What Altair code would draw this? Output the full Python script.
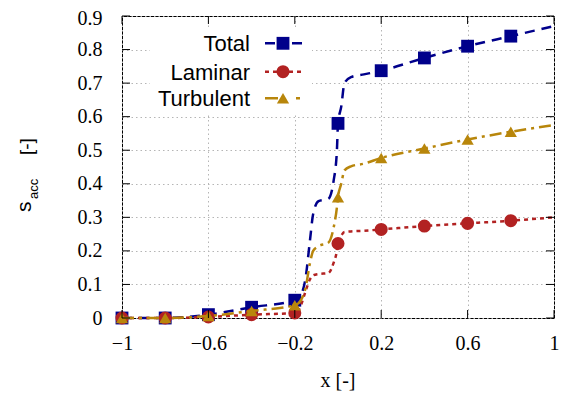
import altair as alt
import pandas as pd

# ---- data ----
x_grid = [-1.0, -0.8, -0.6, -0.4, -0.2, -0.175, -0.15, -0.13, -0.115, -0.09, -0.045,
          -0.02, -0.005, 0.0, 0.015, 0.03, 0.06, 0.12, 0.2, 0.4, 0.6, 0.8, 1.0]
total = [0.0, 0.0, 0.01, 0.032, 0.053, 0.065, 0.12, 0.23, 0.31, 0.348, 0.355,
         0.41, 0.50, 0.58, 0.63, 0.70, 0.718, 0.726, 0.737, 0.775, 0.81, 0.84, 0.87]
laminar = [0.0, 0.0, 0.003, 0.01, 0.015, 0.033, 0.08, 0.115, 0.127, 0.131, 0.134,
           0.165, 0.20, 0.222, 0.245, 0.256, 0.258, 0.26, 0.264, 0.274, 0.282, 0.29, 0.30]
turbulent = [0.0, 0.0, 0.006, 0.021, 0.038, 0.05, 0.09, 0.163, 0.20, 0.214, 0.224,
             0.27, 0.33, 0.36, 0.40, 0.44, 0.452, 0.46, 0.477, 0.505, 0.532, 0.555, 0.575]
marker_x = [-1.0, -0.8, -0.6, -0.4, -0.2, 0.0, 0.2, 0.4, 0.6, 0.8]

series_names = ["Total", "Laminar", "Turbulent"]
series_values = [total, laminar, turbulent]
colors = ["#00008B", "#B22222", "#B8860B"]
shapes = ["square", "circle", "triangle-up"]
sizes = [165, 170, 150]
dashes = [[10, 7], [4, 4], [12, 5, 3, 5]]
legend_dashes = [[10, 17], [4, 4], [13, 18, 4, 5]]

x_ticks = [-1, -0.6, -0.2, 0.2, 0.6, 1]
y_ticks = [0, 0.1, 0.2, 0.3, 0.4, 0.5, 0.6, 0.7, 0.8, 0.9]

W, H = 432, 302
TOP = 8

xs = alt.Scale(domain=[-1, 1], nice=False, zero=False)
ys = alt.Scale(domain=[0, 0.9], nice=False, zero=False)
x_axis = alt.Axis(values=x_ticks, title=None, format="~g", grid=True, ticks=False,
                  domain=False, labelPadding=15, labelFlush=False)
y_axis = alt.Axis(values=y_ticks, title=None, format="~g", grid=True, ticks=False,
                  domain=False, labelPadding=20, labelFlush=False,
                  labelOffset={"condition": {"test": "datum.value >= 0.89", "value": 2}, "value": 0})

layers = []

# white box under legend (hides grid)
layers.append(
    alt.Chart(pd.DataFrame({"a": [0]})).mark_rect(color="white").encode(
        x=alt.value(28), x2=alt.value(190), y=alt.value(12), y2=alt.value(97)
    )
)

for name, vals, col, shp, sz, dsh in zip(series_names, series_values, colors, shapes, sizes, dashes):
    df = pd.DataFrame({"x": x_grid, "y": vals})
    mdf = df[df["x"].round(3).isin(marker_x)]
    line = alt.Chart(df).mark_line(
        color=col, strokeWidth=2.5, strokeDash=dsh, interpolate="monotone"
    ).encode(
        x=alt.X("x:Q", scale=xs, axis=x_axis),
        y=alt.Y("y:Q", scale=ys, axis=y_axis),
    )
    pts = alt.Chart(mdf).mark_point(
        shape=shp, size=sz, filled=True, color=col, opacity=1
    ).encode(
        x=alt.X("x:Q", scale=xs, axis=x_axis),
        y=alt.Y("y:Q", scale=ys, axis=y_axis),
    )
    layers += [line, pts]

# inward ticks on all four sides
ydf = pd.DataFrame({"v": y_ticks})
xdf = pd.DataFrame({"v": x_ticks})
for x0, x1 in [(0, 8), (W - 8, W)]:
    layers.append(alt.Chart(ydf).mark_rule(color="black", strokeWidth=1).encode(
        y=alt.Y("v:Q", scale=ys, axis=y_axis), x=alt.value(x0), x2=alt.value(x1)))
for y0, y1 in [(H - 8, H), (0, 8)]:
    layers.append(alt.Chart(xdf).mark_rule(color="black", strokeWidth=1).encode(
        x=alt.X("v:Q", scale=xs, axis=x_axis), y=alt.value(y0), y2=alt.value(y1)))

# legend
row_y = [27.3, 55.7, 82.3]
one = pd.DataFrame({"a": [0]})
for name, col, shp, sz, dsh, ry in zip(series_names, colors, shapes, sizes, legend_dashes, row_y):
    layers.append(alt.Chart(one).mark_text(
        text=name, align="right", baseline="middle", font="Liberation Sans", fontSize=22,
        color="black").encode(x=alt.value(128), y=alt.value(ry + 1)))
    layers.append(alt.Chart(one).mark_rule(color=col, strokeWidth=2.5, strokeDash=dsh).encode(
        x=alt.value(143), x2=alt.value(180), y=alt.value(ry)))
    layers.append(alt.Chart(one).mark_point(shape=shp, size=sz, filled=True, color=col, opacity=1).encode(
        x=alt.value(161), y=alt.value(ry)))

# axis titles
layers.append(alt.Chart(one).mark_text(
    text="x [-]", align="center", baseline="alphabetic", font="Liberation Serif", fontSize=20,
    color="black").encode(x=alt.value(W / 2), y=alt.value(371)))
layers.append(alt.Chart(one).mark_text(
    text="s", angle=270, align="left", baseline="alphabetic", font="Liberation Sans", fontSize=21,
    color="black").encode(x=alt.value(-91), y=alt.value(196)))
layers.append(alt.Chart(one).mark_text(
    text="acc", angle=270, align="left", baseline="alphabetic", font="Liberation Sans", fontSize=13,
    color="black").encode(x=alt.value(-84), y=alt.value(183)))
layers.append(alt.Chart(one).mark_text(
    text="[-]", angle=270, align="left", baseline="alphabetic", font="Liberation Sans", fontSize=19,
    color="black").encode(x=alt.value(-89), y=alt.value(139)))

chart = alt.layer(*layers).properties(
    width=W, height=H,
    autosize=alt.AutoSizeParams(type="none"),
    padding={"left": 114, "top": TOP, "right": 8, "bottom": 82},
).configure_view(
    stroke="black", strokeWidth=1
).configure_axis(
    labelFont="Liberation Serif", labelFontSize=20, labelColor="black",
    gridColor="#b5b5b5", gridDash=[1.5, 3], gridWidth=1,
)

chart.save("out.html", embed_options={"renderer": "svg", "actions": False})
